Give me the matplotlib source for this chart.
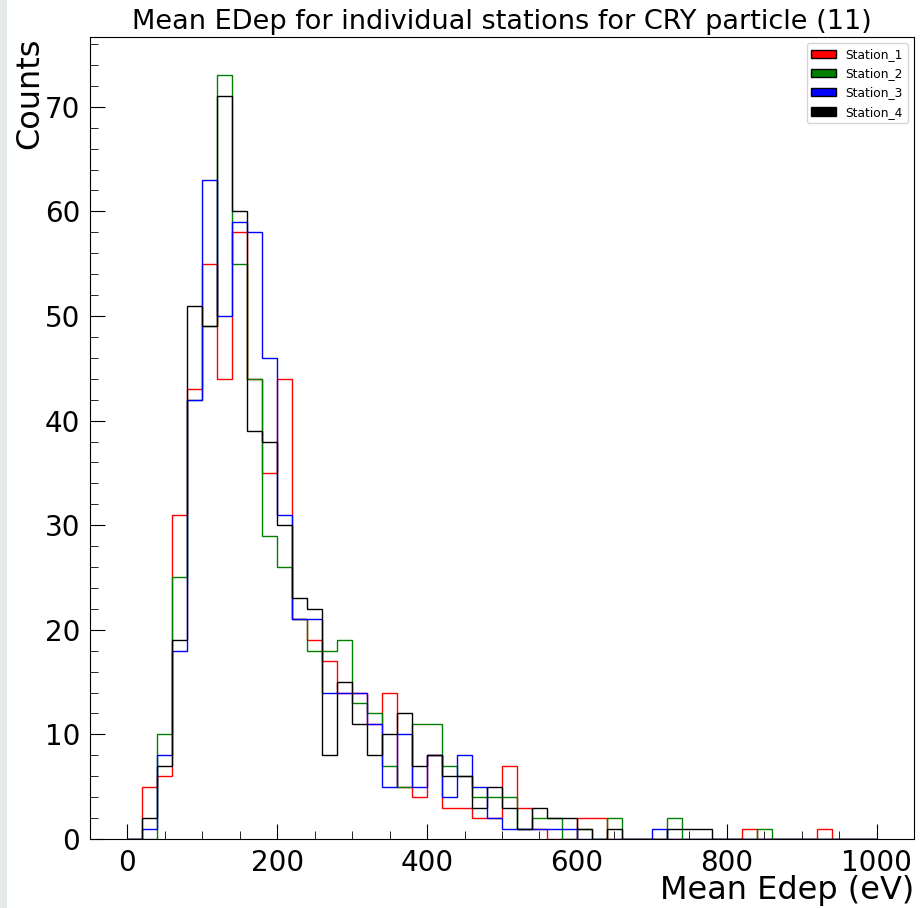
import numpy as np
import matplotlib
matplotlib.use("Agg")
import matplotlib.pyplot as plt
from matplotlib.patches import Patch, Rectangle
from matplotlib.ticker import AutoMinorLocator

# histogram bin edges (eV) and counts per bin
bin_edges = np.linspace(0, 1000, 51)

station_1 = [0, 5, 6, 31, 43, 55, 44, 58, 44, 35,
             44, 21, 19, 17, 14, 14, 11, 14, 5, 4,
             8, 3, 3, 2, 2, 7, 3, 1, 0, 0,
             2, 2, 0, 0, 0, 0, 0, 0, 0, 0,
             0, 1, 0, 0, 0, 0, 1, 0, 0, 0]
station_2 = [0, 0, 10, 25, 42, 49, 73, 55, 44, 29,
             26, 21, 18, 18, 19, 13, 12, 7, 5, 11,
             11, 7, 6, 4, 4, 4, 1, 2, 2, 0,
             1, 0, 2, 0, 0, 0, 2, 0, 0, 0,
             0, 0, 1, 0, 0, 0, 0, 0, 0, 0]
station_3 = [0, 1, 8, 18, 42, 63, 50, 59, 58, 46,
             31, 21, 21, 14, 14, 14, 11, 5, 10, 5,
             8, 4, 8, 5, 2, 1, 1, 1, 1, 1,
             0, 0, 0, 0, 0, 1, 0, 0, 0, 0,
             0, 0, 0, 0, 0, 0, 0, 0, 0, 0]
station_4 = [0, 2, 7, 19, 51, 49, 71, 60, 39, 38,
             30, 23, 22, 8, 15, 11, 8, 10, 12, 7,
             8, 6, 6, 3, 5, 3, 1, 3, 2, 2,
             1, 0, 1, 0, 0, 0, 1, 1, 1, 0,
             0, 0, 0, 0, 0, 0, 0, 0, 0, 0]

labels = ["Station_1", "Station_2", "Station_3", "Station_4"]
colors = ["red", "green", "blue", "black"]

fig = plt.figure(figsize=(9.24, 9.08), dpi=100)
# thin grey strip on the left edge, as in the screenshot
fig.patches.append(Rectangle((0, 0), 0.008, 1, transform=fig.transFigure,
                             facecolor="#e6eaea", edgecolor="none"))
ax = fig.add_axes([0.0974, 0.076, 0.8918, 0.883])

centers = (bin_edges[:-1] + bin_edges[1:]) / 2
for counts, label, color in zip([station_1, station_2, station_3, station_4], labels, colors):
    ax.hist(centers, bins=bin_edges, weights=counts, histtype="step",
            color=color, linewidth=1.0, label=label)

ax.set_title("Mean EDep for individual stations for CRY particle (11)", fontsize=19.5)
ax.set_xlabel("Mean Edep (eV)", fontsize=23, loc="right", labelpad=-1)
ax.set_ylabel("Counts", fontsize=23, loc="top", labelpad=0)

ax.xaxis.set_minor_locator(AutoMinorLocator())
ax.yaxis.set_minor_locator(AutoMinorLocator())
ax.tick_params(which="both", direction="in", labelsize=20, pad=7)
ax.tick_params(which="major", length=11)
ax.tick_params(which="minor", length=6)

handles = [Patch(facecolor=c, edgecolor="black", label=l) for c, l in zip(colors, labels)]
ax.legend(handles=handles, loc="upper right", fontsize=8.8)

fig.savefig("out.png", dpi=100)
